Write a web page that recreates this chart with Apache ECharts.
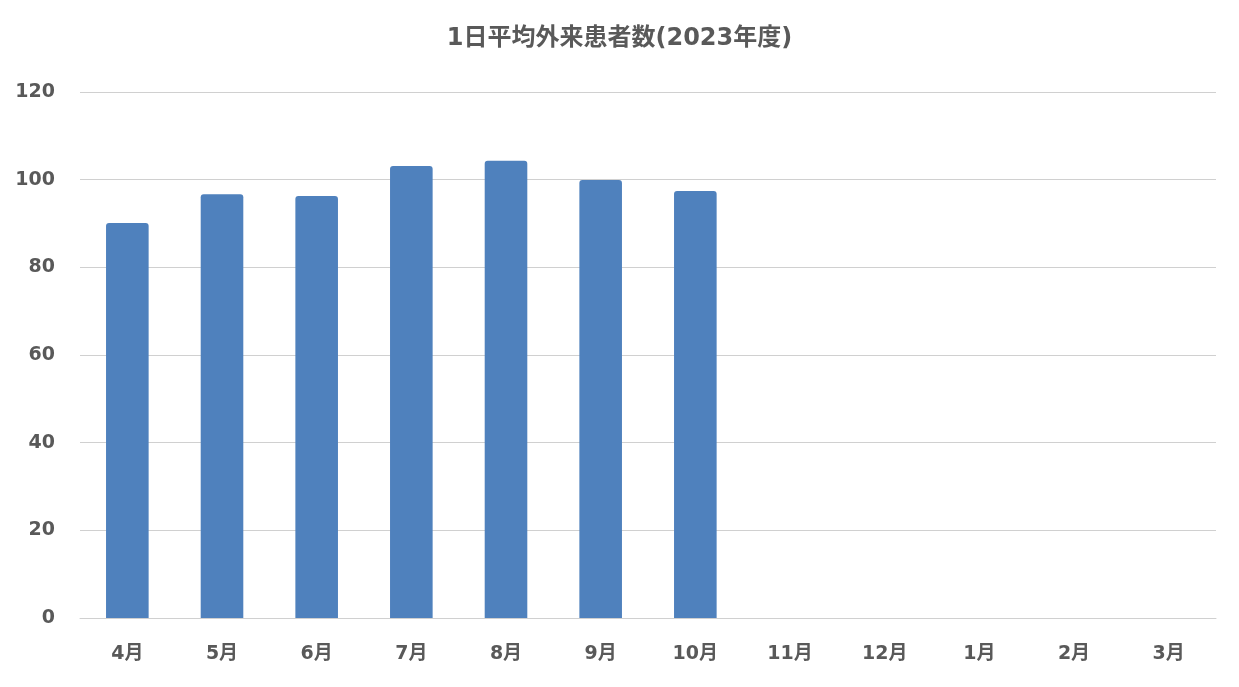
<!DOCTYPE html>
<html><head><meta charset="utf-8">
<script src="https://cdn.jsdelivr.net/npm/echarts@6/dist/echarts.min.js"></script>
<style>html,body{margin:0;padding:0;background:#fff}#c{width:1239px;height:687px}</style>
</head><body><div id="c"></div>
<script>
const title = '1日平均外来患者数(2023年度)';
const categories = ['4月','5月','6月','7月','8月','9月','10月','11月','12月','1月','2月','3月'];
const values = [90.1, 96.7, 96.3, 103.1, 104.3, 99.9, 97.4, null, null, null, null, null];
const yTicks = [0, 20, 40, 60, 80, 100, 120];
const font = '"DejaVu Sans", "Noto Sans CJK JP", sans-serif';
const chart = echarts.init(document.getElementById('c'), null, {renderer:'canvas'});
chart.setOption({
  animation:false,
  title:{text:title,left:'center',top:22,textStyle:{fontFamily:font,fontSize:24,fontWeight:'bold',color:'#595959'}},
  grid:{left:80,right:23,top:92,bottom:69},
  xAxis:{type:'category',data:categories,
    axisLine:{lineStyle:{color:'#d0d0d0',width:1}},axisTick:{show:false},
    axisLabel:{fontFamily:font,fontSize:19,fontWeight:'bold',color:'#595959',margin:27}},
  yAxis:{type:'value',min:yTicks[0],max:yTicks[yTicks.length-1],interval:20,
    axisLine:{show:false},axisTick:{show:false},
    splitLine:{lineStyle:{color:'#d0d0d0',width:1}},
    axisLabel:{fontFamily:font,fontSize:19,fontWeight:'bold',color:'#595959',margin:25}},
  series:[{type:'bar',data:values,barWidth:'45%',itemStyle:{color:'#4f81bd',borderRadius:[3,3,0,0]}}]
});
</script></body></html>
